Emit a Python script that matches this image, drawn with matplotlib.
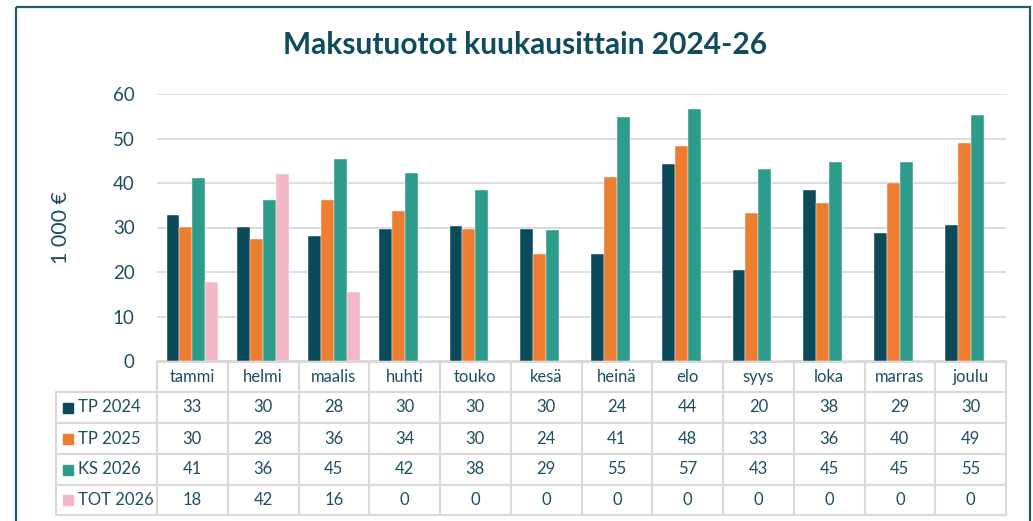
import numpy as np
import matplotlib.pyplot as plt
from matplotlib.patches import Rectangle

months = ["tammi", "helmi", "maalis", "huhti", "touko", "kesä",
          "heinä", "elo", "syys", "loka", "marras", "joulu"]
series_names = ["TP 2024", "TP 2025", "KS 2026", "TOT 2026"]

tp2024 = [32.8, 30.2, 28.2, 29.7, 30.3, 29.7, 24.0, 44.3, 20.4, 38.4, 28.8, 30.5]
tp2025 = [30.2, 27.5, 36.2, 33.7, 29.7, 24.0, 41.3, 48.3, 33.2, 35.5, 39.9, 49.0]
ks2026 = [41.2, 36.2, 45.3, 42.2, 38.4, 29.4, 54.8, 56.6, 43.1, 44.7, 44.7, 55.2]
tot2026 = [17.8, 42.0, 15.6, 0, 0, 0, 0, 0, 0, 0, 0, 0]

colors = ["#0B4A5B", "#ED7D31", "#2E9C8B", "#F2B8C8"]
text_col = "#1C4F60"
grid_col = "#D9D9D9"

W, H = 1033, 521
plt.rcParams['font.family'] = ['Lato', 'DejaVu Sans']

fig = plt.figure(figsize=(W / 100, H / 100), dpi=100)

# plot area in pixels
px_l, px_r, px_top, px_bot = 157, 1006, 94, 361
ax = fig.add_axes([px_l / W, 1 - px_bot / H, (px_r - px_l) / W, (px_bot - px_top) / H])

data = [tp2024, tp2025, ks2026, tot2026]
x = np.arange(len(months))
bw = 0.182
for i, vals in enumerate(data):
    ax.bar(x + (i - 1.5) * bw, vals, width=bw, color=colors[i], zorder=3,
           edgecolor="white", linewidth=0.3)

ax.set_xlim(-0.5, len(months) - 0.5)
ax.set_ylim(0, 60)
ax.set_yticks(range(0, 61, 10))
ax.yaxis.grid(True, color=grid_col, linewidth=1.3, zorder=0)
ax.set_xticks([])
for s in ax.spines.values():
    s.set_visible(False)
ax.tick_params(axis='y', length=0, pad=16, labelsize=13.5, labelcolor=text_col)
ax.set_ylabel("1 000 €", fontsize=15.5, color=text_col, labelpad=30)

# overlay in pixel coordinates for table and frame
ov = fig.add_axes([0, 0, 1, 1], zorder=5)
ov.set_xlim(0, W)
ov.set_ylim(H, 0)
ov.axis('off')
ov.patch.set_alpha(0)

ov.add_patch(Rectangle((16, 7), 1030 - 16, 530, fill=False,
                       edgecolor="#1F5C6C", linewidth=1.6))

ov.text(525, 45, "Maksutuotot kuukausittain 2024-26", ha='center', va='center',
        fontsize=21.5, fontweight='bold', color="#0F4C5C")

col_w = (px_r - px_l) / len(months)
row_y = [362, 392, 423, 454, 485, 515]
lab_l = 56

# horizontal lines
ov.plot([px_l, px_r], [row_y[0], row_y[0]], color=grid_col, lw=1.5)
for yy in row_y[1:]:
    ov.plot([lab_l, px_r], [yy, yy], color=grid_col, lw=1.5)
# vertical lines
ov.plot([lab_l, lab_l], [row_y[1], row_y[-1]], color=grid_col, lw=1.5)
for j in range(len(months) + 1):
    xx = px_l + j * col_w
    ov.plot([xx, xx], [row_y[0], row_y[-1]], color=grid_col, lw=1.5)

for j, m in enumerate(months):
    cx = px_l + (j + 0.5) * col_w
    ov.text(cx, (row_y[0] + row_y[1]) / 2, m, ha='center', va='center',
            fontsize=12, color=text_col)
    for i, vals in enumerate(data):
        cy = (row_y[i + 1] + row_y[i + 2]) / 2
        ov.text(cx, cy, str(int(round(vals[j]))), ha='center', va='center',
                fontsize=12, color=text_col)

for i, name in enumerate(series_names):
    cy = (row_y[i + 1] + row_y[i + 2]) / 2
    ov.add_patch(Rectangle((63, cy - 5), 10, 10, color=colors[i]))
    ov.text(78, cy, name, ha='left', va='center', fontsize=12, color=text_col)

fig.savefig("out.png", dpi=100)
